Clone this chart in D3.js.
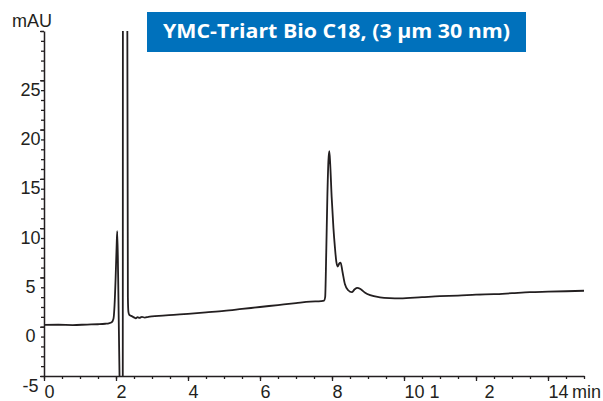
<!DOCTYPE html>
<html>
<head>
<meta charset="utf-8">
<script src="https://cdn.jsdelivr.net/npm/d3@7"></script>
<style>
    body { margin: 0; background: #fff; }
    svg { display: block; }
</style>
</head>
<body>
<div id="chart"></div>
<script>
// DATA
const title = 'YMC-Triart Bio C18, (3 µm 30 nm)';
const yUnit = 'mAU';
const xUnit = 'min';

const yMajorTicks = [-5, 0, 5, 10, 15, 20, 25, 30];
const yTickLabels = ['-5', '0', '5', '10', '15', '20', '25', ''];
const xMajorTicks = [0, 2, 4, 6, 8, 10, 12, 14];
const xTickLabels = ['0', '2', '4', '6', '8', '10 1', '2', '14'];

// retention time (min) and absorbance (mAU)
const times = [
    0.00, 0.40, 0.80, 1.20, 1.50, 1.70, 1.80, 1.88, 1.93, 1.96,
    1.99, 2.02, 2.035, 2.06, 2.10, 2.12, 2.188, 2.192, 2.20, 2.30,
    2.315, 2.33, 2.345, 2.37, 2.42, 2.50, 2.55, 2.60, 2.65, 2.72,
    2.80, 2.90, 3.00, 3.30, 3.60, 4.00, 4.50, 5.00, 5.50, 6.00,
    6.50, 7.00, 7.40, 7.70, 7.78, 7.81, 7.84, 7.87, 7.90, 7.925,
    7.95, 7.99, 8.04, 8.08, 8.12, 8.16, 8.20, 8.24, 8.29, 8.36,
    8.45, 8.55, 8.63, 8.70, 8.80, 8.92, 9.06, 9.33, 9.60, 9.89,
    10.5, 11.0, 11.5, 12.0, 12.5, 13.0, 13.5, 14.0, 14.5, 15.0
];
const signal = [
    0.18, 0.20, 0.17, 0.22, 0.25, 0.30, 0.35, 0.45, 0.80, 2.2,
    5.0, 8.5, 9.7, 5.0, -5.5, -8, -8, 36, 36, 36,
    30, 3.0, 1.5, 1.2, 1.1, 0.95, 0.85, 0.98, 0.90, 1.0,
    0.92, 1.0, 1.05, 1.12, 1.2, 1.3, 1.45, 1.6, 1.8, 2.0,
    2.2, 2.4, 2.55, 2.6, 2.65, 3.0, 7.5, 13.0, 16.8, 17.8,
    16.5, 13.2, 10.0, 8.1, 6.6, 6.1, 6.4, 6.5, 5.6, 4.3,
    3.7, 3.5, 3.8, 3.95, 3.8, 3.45, 3.2, 2.98, 2.9, 2.88,
    3.0, 3.1, 3.15, 3.25, 3.3, 3.4, 3.5, 3.55, 3.6, 3.65
];

const ink = '#231f20';
const font = '"Liberation Sans", Arial, sans-serif';

function render() {
    const width = 603;
    const height = 401;
    const plot = { left: 44, right: 584, top: 31, bottom: 376 };

    const svg = d3.select('#chart').append('svg')
        .attr('width', width)
        .attr('height', height);

    const x = d3.scaleLinear().domain([0, 15]).range([plot.left, plot.right]);
    const y = d3.scaleLinear().domain([-5, 30]).range([plot.bottom, plot.top]);

    // minor ticks
    svg.append('g')
        .attr('transform', `translate(${plot.left},0)`)
        .call(d3.axisLeft(y).tickValues(d3.range(-5, 31, 1)).tickSize(3).tickSizeOuter(0).tickFormat(''))
        .call(g => g.select('.domain').remove());

    svg.append('g')
        .attr('transform', `translate(0,${plot.bottom})`)
        .call(d3.axisBottom(x).tickValues(d3.range(0, 15.01, 0.5)).tickSize(3).tickSizeOuter(0).tickFormat(''))
        .call(g => g.select('.domain').remove());

    // major ticks + labels
    const yAxis = svg.append('g')
        .attr('transform', `translate(${plot.left},0)`)
        .call(d3.axisLeft(y).tickValues(yMajorTicks).tickSize(4).tickSizeOuter(0)
            .tickFormat((d, i) => yTickLabels[i]));
    yAxis.selectAll('text')
        .attr('x', -13.5)
        .attr('dy', null)
        .attr('y', 15)
        .attr('text-anchor', 'middle');

    const xAxis = svg.append('g')
        .attr('transform', `translate(0,${plot.bottom})`)
        .call(d3.axisBottom(x).tickValues(xMajorTicks).tickSize(5).tickSizeOuter(0)
            .tickFormat((d, i) => xTickLabels[i]));
    xAxis.selectAll('text')
        .attr('dy', null)
        .attr('y', 22)
        .attr('x', d => d === 12 ? 8 : 0)
        .attr('text-anchor', 'start');

    svg.selectAll('.tick line').attr('stroke', ink).attr('stroke-width', 1.3);
    svg.selectAll('.domain').attr('stroke', ink).attr('stroke-width', 1.5);
    svg.selectAll('.tick text')
        .attr('fill', ink)
        .style('font-family', font)
        .style('font-size', '18px');

    // unit labels
    svg.append('text')
        .attr('x', 12)
        .attr('y', 27)
        .attr('fill', ink)
        .style('font-family', font)
        .style('font-size', '18px')
        .text(yUnit);

    svg.append('text')
        .attr('x', x(14) + 24)
        .attr('y', plot.bottom + 22)
        .attr('fill', ink)
        .style('font-family', font)
        .style('font-size', '18px')
        .text(xUnit);

    // trace, clipped to the plot frame
    svg.append('clipPath')
        .attr('id', 'plotclip')
        .append('rect')
        .attr('x', plot.left)
        .attr('y', plot.top)
        .attr('width', plot.right - plot.left)
        .attr('height', plot.bottom - plot.top);

    const line = d3.line()
        .x((d, i) => x(times[i]))
        .y(d => y(d))
        .curve(d3.curveMonotoneX);

    svg.append('path')
        .datum(signal)
        .attr('clip-path', 'url(#plotclip)')
        .attr('fill', 'none')
        .attr('stroke', ink)
        .attr('stroke-width', 1.8)
        .attr('stroke-linejoin', 'round')
        .attr('d', line);

    // title box
    svg.append('rect')
        .attr('x', 147)
        .attr('y', 12)
        .attr('width', 379)
        .attr('height', 40)
        .attr('fill', '#0071bc');

    svg.append('text')
        .attr('x', 336.5)
        .attr('y', 38)
        .attr('text-anchor', 'middle')
        .attr('fill', '#fff')
        .attr('textLength', 347)
        .attr('lengthAdjust', 'spacingAndGlyphs')
        .style('font-family', '"Open Sans", "Noto Sans", sans-serif')
        .style('font-weight', 700)
        .style('font-size', '19px')
        .text(title);
}

window.onload = render;
</script>
</body>
</html>
